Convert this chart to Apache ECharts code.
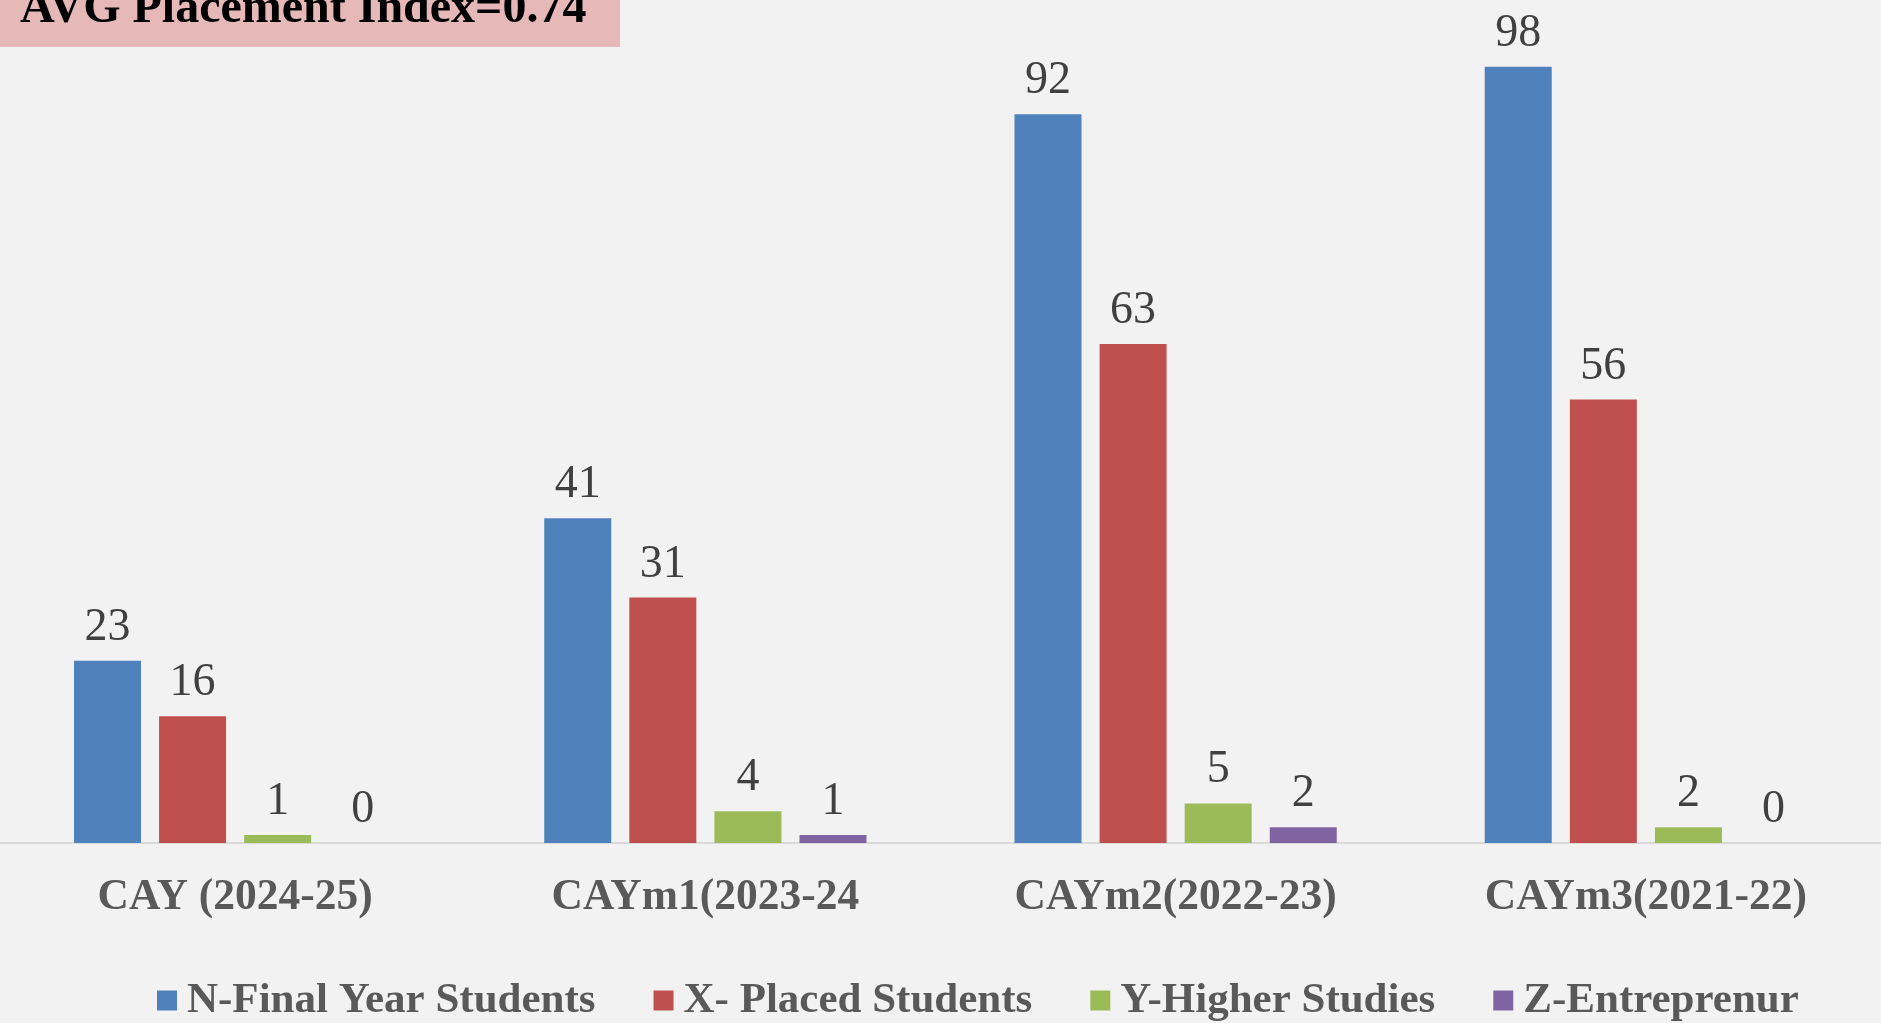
<!DOCTYPE html>
<html>
<head>
<meta charset="utf-8">
<style>
  html, body { margin: 0; padding: 0; background: #F2F2F2; }
  #chart { width: 1881px; height: 1023px; }
</style>
<script src="https://cdn.jsdelivr.net/npm/echarts@6/dist/echarts.min.js"></script>
</head>
<body>
<div id="chart"></div>
<script>
// Academic years
const categories = ['CAY (2024-25)', 'CAYm1(2023-24', 'CAYm2(2022-23)', 'CAYm3(2021-22)'];

// Student counts per year
const finalYearStudents = [23, 41, 92, 98];
const placedStudents = [16, 31, 63, 56];
const higherStudies = [1, 4, 5, 2];
const entrepreneurs = [0, 1, 2, 0];

const seriesNames = ['N-Final Year Students', 'X- Placed Students', 'Y-Higher Studies', 'Z-Entreprenur'];
const seriesColors = ['#4F81BD', '#C0504D', '#9BBB59', '#8064A2'];
const seriesData = [finalYearStudents, placedStudents, higherStudies, entrepreneurs];

const headline = 'AVG Placement Index=0.74';

const serif = '"Liberation Serif", "Times New Roman", serif';

const chart = echarts.init(document.getElementById('chart'));

chart.setOption({
  backgroundColor: '#F2F2F2',
  animation: false,
  grid: { left: 0, right: 0, top: 51, bottom: 180 },
  xAxis: {
    type: 'category',
    data: categories,
    axisLine: { lineStyle: { color: '#D9D9D9', width: 2 } },
    axisTick: { show: false },
    axisLabel: {
      color: '#595959',
      fontFamily: serif,
      fontWeight: 'bold',
      fontSize: 43.5,
      margin: 33
    }
  },
  yAxis: {
    type: 'value',
    min: 0,
    max: 100,
    show: false,
    splitLine: { show: false }
  },
  legend: {
    left: 157,
    top: 979,
    padding: 0,
    itemWidth: 20,
    itemHeight: 20,
    itemGap: 58,
    icon: 'rect',
    textStyle: {
      color: '#595959',
      fontFamily: serif,
      fontWeight: 'bold',
      fontSize: 43,
      padding: [0, 0, 0, 5]
    },
    data: seriesNames
  },
  series: seriesNames.map((name, i) => ({
    name: name,
    type: 'bar',
    data: seriesData[i],
    barWidth: 67,
    barGap: '27%',
    itemStyle: { color: seriesColors[i] },
    label: {
      show: true,
      position: 'top',
      distance: 10,
      color: '#404040',
      fontFamily: serif,
      fontSize: 46
    }
  })),
  graphic: [
    {
      type: 'rect',
      left: 0,
      top: 0,
      shape: { width: 620, height: 47 },
      style: { fill: '#E6B9B8' }
    },
    {
      type: 'text',
      x: 20,
      y: 10,
      style: {
        text: headline,
        fill: '#000000',
        font: 'bold 48px ' + serif,
        textVerticalAlign: 'middle'
      }
    }
  ]
});
</script>
</body>
</html>
